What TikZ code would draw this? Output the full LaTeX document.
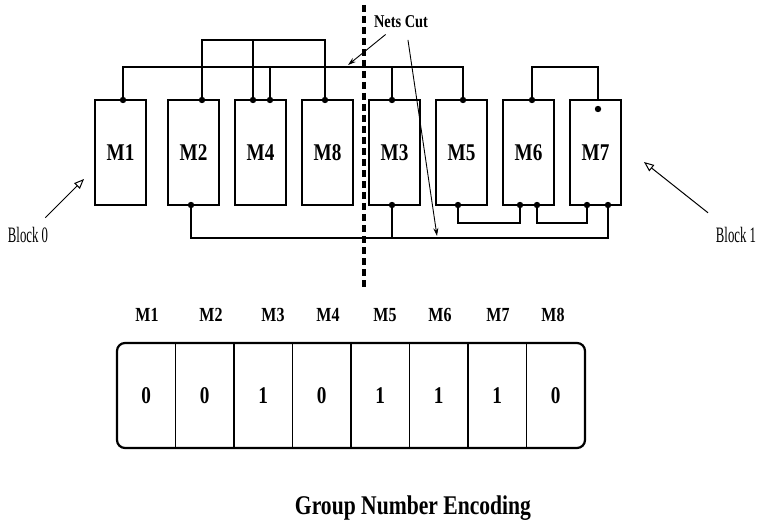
\documentclass[tikz,border=0pt]{standalone}
\usepackage{fontspec}
\setmainfont{Liberation Serif}[FakeStretch=0.8]
\newfontfamily\narrowfont{Liberation Serif}[FakeStretch=0.58]
\usetikzlibrary{calc}
\usetikzlibrary{positioning}
\usetikzlibrary{arrows.meta}
\tikzstyle{modnode} = [draw, rectangle, minimum width=51pt, minimum height=105pt, inner sep=0pt, outer sep=0pt, font=\bfseries\fontsize{24}{24}\selectfont]
\tikzstyle{cellnode} = [rectangle, minimum width=58.5pt, minimum height=105pt, inner sep=0pt, outer sep=0pt, font=\bfseries\fontsize{24}{24}\selectfont]
\tikzstyle{collbl} = [font=\bfseries\fontsize{20}{20}\selectfont]
\tikzstyle{blklbl} = [font=\narrowfont\fontsize{22}{22}\selectfont]
\tikzstyle{pin} = [fill=black]
\tikzstyle{cutarrow} = [-{Stealth[length=8pt,width=5pt]}, line width=0.9pt]
\tikzstyle{blkarrow} = [-{Triangle[open,length=10pt,width=8pt]}, line width=1pt]

\begin{document}
\begin{tikzpicture}[x=1pt, y=-1pt, line width=1.2pt]
  \useasboundingbox (0,0) rectangle (757,524);

  % modules
  \node[modnode] (m1) at (120.5,152.5) {M1};
  \node[modnode, right=22pt of m1] (m2) {M2};
  \node[modnode, right=16pt of m2] (m4) {M4};
  \node[modnode, right=16pt of m4] (m8) {M8};
  \node[modnode, right=16pt of m8] (m3) {M3};
  \node[modnode, right=16pt of m3] (m5) {M5};
  \node[modnode, right=16pt of m5] (m6) {M6};
  \node[modnode, right=16pt of m6] (m7) {M7};

  % pins
  \coordinate (m1t) at ($(m1.north west)+(28,0)$);
  \coordinate (m2t) at ($(m2.north west)+(34,0)$);
  \coordinate (m2b) at ($(m2.south west)+(23,0)$);
  \coordinate (m4t1) at ($(m4.north west)+(18,0)$);
  \coordinate (m4t2) at ($(m4.north west)+(35,0)$);
  \coordinate (m8t) at ($(m8.north west)+(23,0)$);
  \coordinate (m3t) at ($(m3.north west)+(23,0)$);
  \coordinate (m3b) at ($(m3.south west)+(23,0)$);
  \coordinate (m5t) at ($(m5.north west)+(27,0)$);
  \coordinate (m5b) at ($(m5.south west)+(22,0)$);
  \coordinate (m6t) at ($(m6.north west)+(29,0)$);
  \coordinate (m6b1) at ($(m6.south west)+(17,0)$);
  \coordinate (m6b2) at ($(m6.south west)+(34,0)$);
  \coordinate (m7t) at ($(m7.north west)+(28,0)$);
  \coordinate (m7b1) at ($(m7.south west)+(17,0)$);
  \coordinate (m7b2) at ($(m7.south west)+(38,0)$);
  \coordinate (busA) at (0,67);
  \coordinate (busB) at (0,40);
  \coordinate (busD) at (0,238);

  % nets
  \draw (m1t) -- (m1t |- busA) -| (m5t);
  \draw (m4t2) -- (m4t2 |- busA);
  \draw (m3t) -- (m3t |- busA);
  \draw (m2t) -- (m2t |- busB) -| (m8t);
  \draw (m4t1) -- (m4t1 |- busB);
  \draw (m6t) -- ++(0,-33) -| (m7t);
  \draw (m2b) -- (m2b |- busD) -| (m7b2);
  \draw (m3b) -- (m3b |- busD);
  \draw (m5b) -- ++(0,18) -| (m6b1);
  \draw (m6b2) -- ++(0,18) -| (m7b1);

  \foreach \p in {m1t,m2t,m2b,m4t1,m4t2,m8t,m3t,m3b,m5t,m5b,m6t,m6b1,m6b2,m7b1,m7b2}
    \fill[pin] (\p) circle (3.2);
  \fill[pin] ($(m7t)+(0,9)$) circle (3.2);

  % cut line
  \coordinate (cuttop) at (364,5);
  \coordinate (cutbot) at (364,287);
  \draw[line width=3.2pt, dash pattern=on 7pt off 4pt] (cuttop) -- (cutbot);
  \node[font=\bfseries\fontsize{18}{18}\selectfont] (cutlbl) at (401,22) {Nets Cut};
  \coordinate (cutA) at (348,65);
  \coordinate (cutD) at (437,236);
  \draw[cutarrow, shorten <=4pt] (cutlbl) -- (cutA);
  \draw[cutarrow, shorten <=8pt] (cutlbl.300) -- (cutD);

  % blocks
  \node[blklbl] (blk0) at (28,235) {Block 0};
  \node[blklbl] (blk1) at (736,235) {Block 1};
  \coordinate (blk0tip) at (84,179);
  \coordinate (blk1tip) at (644,162);
  \draw[blkarrow, shorten <=8pt] (blk0) -- (blk0tip);
  \draw[blkarrow, shorten <=17pt] (blk1) -- (blk1tip);

  % encoding
  \foreach \n/\x [count=\i] in {M1/147,M2/211,M3/273,M4/328,M5/385,M6/440,M7/498,M8/553}
    \node[collbl] (l\i) at (\x,315) {\n};
  \foreach \v [count=\i] in {0,0,1,0,1,1,1,0}
    \node[cellnode] (c\i) at (117+58.5*\i-29.25,395.5) {\v};
  \draw[line width=2.2pt, rounded corners=8pt] (c1.north west) rectangle (c8.south east);
  \foreach \i in {1,...,7}
    \draw[line width=1.6pt] (c\i.north east) -- (c\i.south east);

  \node[font=\bfseries\fontsize{27}{27}\selectfont] (title) at (413,508) {Group Number Encoding};
\end{tikzpicture}
\end{document}
